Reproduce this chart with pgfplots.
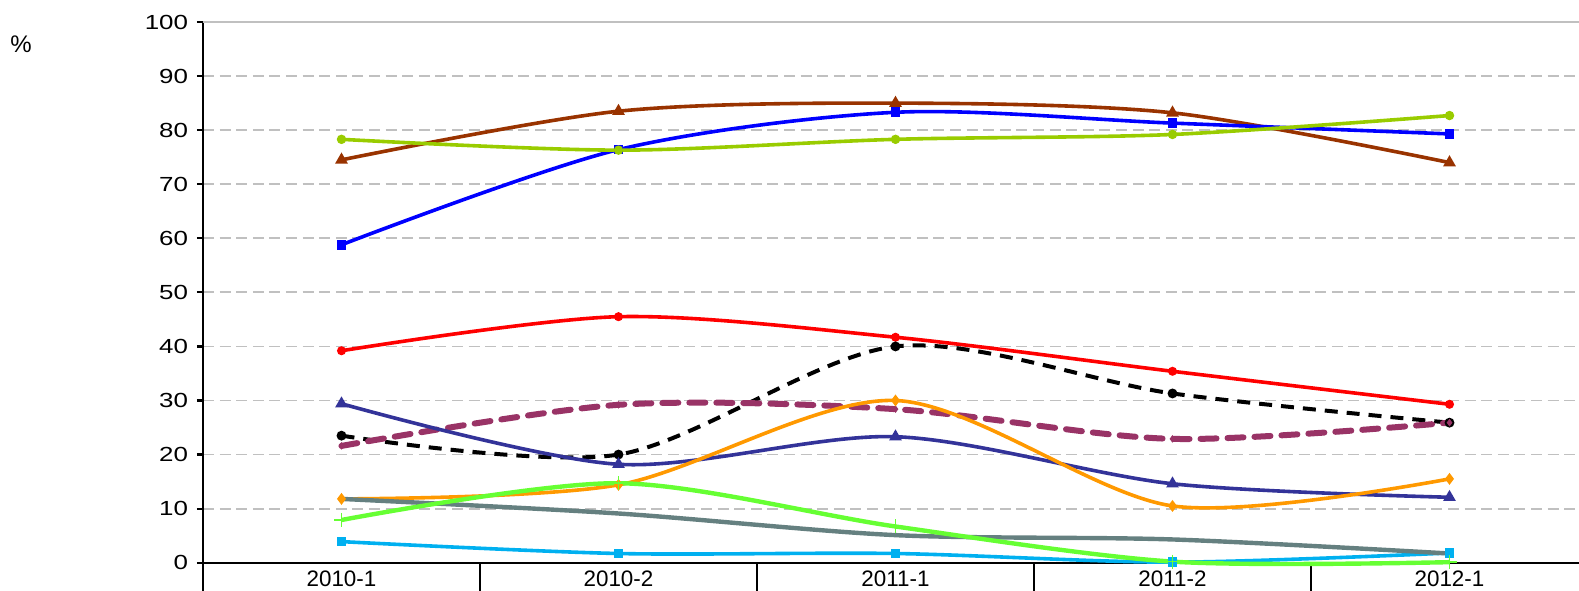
\documentclass[border=0pt]{standalone}
\usepackage{fontspec}
\setmainfont{Liberation Sans}
\usepackage{pgfplots}
\usepackage{pgfplotstable}
\pgfplotsset{compat=1.18}
\definecolor{cbrown}{HTML}{993300}
\definecolor{cblue}{HTML}{0000FF}
\definecolor{cygreen}{HTML}{99CC00}
\definecolor{cred}{HTML}{FF0000}
\definecolor{cpurple}{HTML}{993366}
\definecolor{cdblue}{HTML}{333399}
\definecolor{corange}{HTML}{FF9900}
\definecolor{cbgreen}{HTML}{66FF33}
\definecolor{cgray}{HTML}{658080}
\definecolor{clblue}{HTML}{00B0F0}
\definecolor{cgrid}{HTML}{C0C0C0}
\pgfplotstableread{
x brown blue ygreen red black purple dblue orange bgreen gray lblue
0 74.5 58.8 78.3 39.2 23.5 21.6 29.4 11.8 7.9 11.8 3.9
1 83.5 76.4 76.3 45.5 20.0 29.2 18.2 14.4 14.7 9.1 1.7
2 85.0 83.3 78.3 41.7 40.0 28.4 23.3 30.0 6.7 5.1 1.7
3 83.2 81.3 79.2 35.4 31.3 22.9 14.6 10.5 0.2 4.3 0.1
4 74.0 79.3 82.7 29.3 25.9 25.9 12.1 15.5 0.1 1.7 1.8
}\data
\begin{document}
\begin{tikzpicture}
\clip (-101.5pt,-13.65pt) rectangle (688pt,281.35pt);
\begin{axis}[
  scale only axis, width=692.5pt, height=270.35pt,
  xmin=-0.5, xmax=4.5, ymin=0, ymax=100,
  clip=false,
  axis x line*=bottom, axis y line*=left,
  axis line style={line width=1.1pt, black},
  xtick={0,1,2,3,4},
  xticklabels={2010-1,2010-2,2011-1,2011-2,2012-1},
  minor xtick={-0.5,0.5,1.5,2.5,3.5,4.5},
  ytick={0,10,...,100},
  tick align=outside,
  major tick length=3pt,
  minor tick length=16pt,
  xtick style={draw=none},
  minor x tick style={draw=black, line width=1.1pt},
  ytick style={draw=black, line width=1.1pt},
  ymajorgrids,
  major grid style={cgrid, line width=0.9pt, dash pattern=on 5.5pt off 2.8pt},
  /pgf/number format/assume math mode=true,
  x tick label style={font=\fontsize{11.2}{13}\selectfont, inner sep=0pt, yshift=-0.9pt},
  y tick label style={font=\fontsize{10.2}{11}\selectfont, xscale=1.27},
  ylabel={\%},
  every axis y label/.style={at={(axis description cs:-0.1314,0.9585)}, anchor=center, font=\fontsize{12}{13}\selectfont},
  every axis plot/.append style={smooth},
]
\addplot[cbrown, line width=1.8pt, mark=triangle*, mark size=1.9pt] table[x=x,y=brown]{\data};
\addplot[cblue, line width=1.8pt, mark=square*, mark size=1.5pt] table[x=x,y=blue]{\data};
\addplot[cygreen, line width=1.8pt, mark=*, mark size=1.4pt] table[x=x,y=ygreen]{\data};
\addplot[cred, line width=1.8pt, mark=*, mark size=1.3pt] table[x=x,y=red]{\data};
\addplot[black, line width=2pt, dash pattern=on 6.5pt off 4.5pt, mark=*, mark size=1.4pt, mark options={solid}] table[x=x,y=black]{\data};
\addplot[cpurple, line width=3pt, line cap=round, dash pattern=on 8pt off 5.5pt, mark=diamond*, mark size=1.5pt, mark options={solid, line width=0.5pt}] table[x=x,y=purple]{\data};
\addplot[cdblue, line width=1.8pt, mark=triangle*, mark size=1.9pt] table[x=x,y=dblue]{\data};
\addplot[corange, line width=1.8pt, mark=diamond*, mark size=1.5pt] table[x=x,y=orange]{\data};
\addplot[clblue, line width=1.8pt, mark=square*, mark size=1.5pt] table[x=x,y=lblue]{\data};
\addplot[cgray, line width=2.2pt] table[x=x,y=gray]{\data};
\addplot[cbgreen, line width=2.2pt, mark=+, mark size=3.5pt, mark options={line width=0.8pt}] table[x=x,y=bgreen]{\data};
\draw[cgrid, line width=0.9pt] (rel axis cs:0,1) -- (rel axis cs:1,1);
\end{axis}
\end{tikzpicture}
\end{document}
